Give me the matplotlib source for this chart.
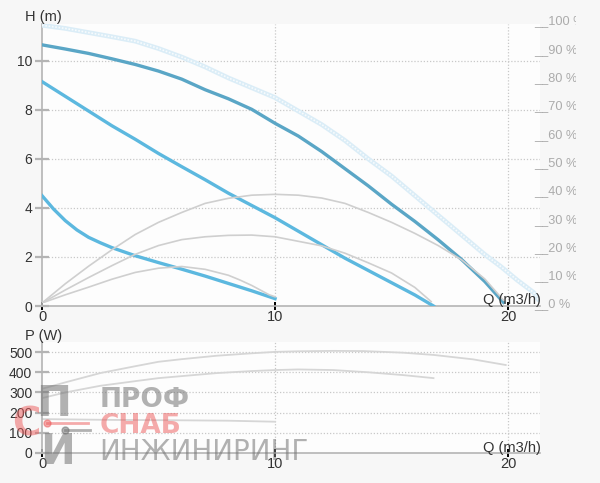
import numpy as np
import matplotlib
matplotlib.use("Agg")
import matplotlib.pyplot as plt
from matplotlib.patches import Rectangle

plt.rcParams['font.family'] = ['Liberation Sans', 'DejaVu Sans']

# pump head curves, Q (m3/h) -> H (m)
q_max = [0, 1, 2, 3, 4, 5, 6, 7, 8, 9, 10, 11, 12, 13, 14, 15, 16, 17, 18, 19, 19.7, 20.4, 21.1, 21.3]
h_max = [11.45, 11.32, 11.15, 10.98, 10.8, 10.5, 10.15, 9.75, 9.3, 8.9, 8.5, 7.95, 7.4, 6.75,
         6.0, 5.3, 4.5, 3.7, 2.9, 2.1, 1.6, 1.05, 0.55, 0.25]

q_hi = [0, 1, 2, 3, 4, 5, 6, 7, 8, 9, 10, 11, 12, 13, 14, 15, 16, 17, 18, 19, 19.8]
h_hi = [10.65, 10.48, 10.3, 10.08, 9.85, 9.58, 9.25, 8.82, 8.45, 8.02, 7.45, 6.93, 6.3, 5.6,
        4.9, 4.15, 3.45, 2.7, 1.9, 1.0, 0.15]

q_mid = [0, 1, 2, 3, 4, 5, 6, 7, 8, 9, 10, 11, 12, 13, 14, 15, 16, 16.8]
h_mid = [9.15, 8.55, 7.95, 7.35, 6.8, 6.22, 5.68, 5.15, 4.6, 4.1, 3.6, 3.05, 2.5, 1.95, 1.45,
         0.95, 0.45, 0.0]

q_low = [0, 0.5, 1, 1.5, 2, 2.5, 3, 4, 5, 6, 7, 8, 9, 10]
h_low = [4.5, 3.95, 3.48, 3.1, 2.8, 2.58, 2.38, 2.05, 1.77, 1.5, 1.22, 0.92, 0.62, 0.3]

# efficiency curves (%)
q_eff1 = [0, 1, 2, 3, 4, 5, 6, 7, 8, 9, 10, 11, 12, 13, 14, 15, 16, 17, 18, 19, 19.8]
e_eff1 = [0, 6.8, 13, 18.8, 24.2, 28.5, 32, 35.2, 37.0, 38.1, 38.4, 38.1, 37.1, 35.2, 32.0,
          28.5, 24.6, 20.3, 15.3, 8.5, 1.0]

q_eff2 = [0, 1, 2, 3, 4, 5, 6, 7, 8, 9, 10, 11, 12, 13, 14, 15, 16, 16.7]
e_eff2 = [0, 4.6, 9.0, 13.2, 17.2, 20.3, 22.4, 23.4, 23.9, 24.0, 23.4, 21.8, 20.2, 17.6, 14.2,
          10.6, 5.5, 0.5]

q_eff3 = [0, 1, 2, 3, 4, 5, 6, 7, 8, 8.5, 9, 9.75, 10]
e_eff3 = [0, 2.9, 5.6, 8.4, 10.8, 12.3, 12.9, 11.9, 9.8, 8.1, 6.2, 2.9, 2.2]

# power curves (W)
q_p1 = [0, 1, 2.5, 4, 5, 6, 7.5, 9, 10, 11, 12.5, 13.8, 15.5, 16.8, 18.5, 19.9]
p_p1 = [318, 350, 396, 430, 452, 465, 482, 494, 501, 504, 506, 505, 497, 486, 464, 436]

q_p2 = [0, 1, 2.5, 4, 5, 6.5, 7.5, 9, 10, 11, 12.5, 14, 15.5, 16.8]
p_p2 = [272, 300, 333, 356, 371, 386, 396, 406, 411, 414, 411, 400, 386, 371]

q_p3 = [0, 3, 6, 8, 10]
p_p3 = [168, 164, 162, 160, 155]

h_ticks = [0, 2, 4, 6, 8, 10]
p_ticks = [0, 100, 200, 300, 400, 500]
q_ticks = [0, 10, 20]
pct_ticks = list(range(0, 101, 10))

W, H = 600, 483
BG = '#f7f7f7'
GRID = '#c8c8c8'
SPINE = '#b4b4b4'
TXT = '#333333'


def px_box(left, top, right, bottom):
    return [left / W, 1 - bottom / H, (right - left) / W, (bottom - top) / H]


def style_axis(ax, yticks):
    ax.set_facecolor('#fdfdfd')
    for s in ['top', 'right']:
        ax.spines[s].set_visible(False)
    ax.spines['left'].set_color(SPINE)
    ax.spines['left'].set_linewidth(1.2)
    ax.spines['bottom'].set_color(SPINE)
    ax.spines['bottom'].set_linewidth(1.2)
    ax.set_yticks(yticks)
    ax.set_xticks(q_ticks)
    ax.tick_params(axis='y', direction='inout', length=10, width=1.6,
                   color=SPINE, labelsize=10, labelcolor=TXT, pad=2)
    ax.tick_params(axis='x', direction='inout', length=6, width=1.4,
                   color='black', labelsize=10.5, labelcolor=TXT, pad=0)
    for y in yticks[1:]:
        ax.axhline(y, color=GRID, lw=0.9, ls=(0, (1, 1.5)), zorder=0)
    for x in q_ticks[1:]:
        ax.axvline(x, color=GRID, lw=0.9, ls=(0, (1, 1.5)), zorder=0)


fig = plt.figure(figsize=(W / 100, H / 100), dpi=100, facecolor=BG)

# ---- head chart
ax_h = fig.add_axes(px_box(42, 24, 540, 306))
style_axis(ax_h, h_ticks)
ax_h.set_xlim(0, 21.37)
ax_h.set_ylim(0, 11.5)

# efficiency (percent) overlay
ax_e = fig.add_axes(px_box(42, 20, 540, 303))
ax_e.set_xlim(0, 21.37)
ax_e.set_ylim(0, 100)
ax_e.patch.set_visible(False)
for s in ax_e.spines.values():
    s.set_visible(False)
ax_e.set_xticks([])
ax_e.yaxis.tick_right()
ax_e.set_yticks(pct_ticks)
ax_e.set_yticklabels([f'__{p} %' for p in pct_ticks])
ax_e.tick_params(axis='y', length=0, pad=-4, labelsize=9.2, labelcolor='#ababab')
# the 100 % label is cut off at the canvas edge in the original
clip = Rectangle((0, 0), 576 / W, 1, transform=fig.transFigure, visible=False)
fig.patches.append(clip)
for lab in ax_e.get_yticklabels():
    lab.set_clip_path(clip)
    lab.set_clip_on(True)

gray = '#cfcfcf'
ax_e.plot(q_eff1, e_eff1, color=gray, lw=1.2, zorder=2)
ax_e.plot(q_eff2, e_eff2, color=gray, lw=1.2, zorder=2)
ax_e.plot(q_eff3, e_eff3, color=gray, lw=1.2, zorder=2)

ax_h.plot(q_max, h_max, color='#dbedf7', lw=3.4, solid_capstyle='round', zorder=3)
ax_h.plot(q_max, h_max, color='#f7fbfd', lw=1.2, ls=(0, (1, 1)), zorder=3)
ax_h.plot(q_hi, h_hi, color='#5aa6c6', lw=2.4, zorder=4)
ax_h.plot(q_mid, h_mid, color='#5cb8df', lw=2.4, zorder=4)
ax_h.plot(q_low, h_low, color='#5cb8df', lw=2.4, zorder=4)
ax_e.set_zorder(ax_h.get_zorder() + 1)

# ---- power chart
ax_p = fig.add_axes(px_box(42, 342, 540, 453))
style_axis(ax_p, p_ticks)
ax_p.set_xlim(0, 21.37)
ax_p.set_ylim(0, 550)
pgray = '#d6d6d6'
ax_p.plot(q_p1, p_p1, color=pgray, lw=1.3)
ax_p.plot(q_p2, p_p2, color=pgray, lw=1.3)
ax_p.plot(q_p3, p_p3, color=pgray, lw=1.3)

# axis titles
fig.text(25 / W, 1 - 17.5 / H, 'H (m)', ha='left', va='center', fontsize=10.5, color=TXT)
fig.text(25 / W, 1 - 336 / H, 'P (W)', ha='left', va='center', fontsize=10.5, color=TXT)
fig.text(512 / W, 1 - 300 / H, 'Q (m3/h)', ha='center', va='center', fontsize=10.5, color=TXT)
fig.text(512 / W, 1 - 448 / H, 'Q (m3/h)', ha='center', va='center', fontsize=10.5, color=TXT)

# watermark logo
wm_gray = (0.45, 0.45, 0.45, 0.55)
wm_red = (0.93, 0.35, 0.35, 0.5)
fig.text(100 / W, 1 - 400 / H, 'ПРОФ', fontsize=19, color=wm_gray, ha='left', va='center',
         fontweight='bold', family=['DejaVu Sans'])
fig.text(100 / W, 1 - 426 / H, 'СНАБ', fontsize=19, color=wm_red, ha='left', va='center',
         fontweight='bold', family=['DejaVu Sans'])
fig.text(99 / W, 1 - 452 / H, 'ИНЖИНИРИНГ', fontsize=20, color=wm_gray, ha='left',
         va='center', family=['DejaVu Sans'])
fig.text(36 / W, 1 - 404 / H, 'П', fontsize=30, color=wm_gray, ha='left', va='center',
         fontweight='bold', family=['DejaVu Sans'])
fig.text(12 / W, 1 - 424 / H, 'С', fontsize=28, color=wm_red, ha='left', va='center',
         fontweight='bold', family=['DejaVu Sans'])
fig.text(40 / W, 1 - 452 / H, 'И', fontsize=30, color=wm_gray, ha='left', va='center',
         fontweight='bold', family=['DejaVu Sans'])
fig.lines.append(plt.Line2D([47 / W, 88 / W], [1 - 423 / H, 1 - 423 / H], color=wm_red,
                            lw=2, transform=fig.transFigure))
fig.lines.append(plt.Line2D([47 / W], [1 - 423 / H], color=wm_red, marker='o', ms=5,
                            transform=fig.transFigure))
fig.lines.append(plt.Line2D([65 / W, 90 / W], [1 - 430 / H, 1 - 430 / H], color=wm_gray,
                            lw=2, transform=fig.transFigure))
fig.lines.append(plt.Line2D([65 / W], [1 - 430 / H], color=wm_gray, marker='o', ms=5,
                            transform=fig.transFigure))

fig.savefig('out.png', dpi=100, facecolor=BG)
